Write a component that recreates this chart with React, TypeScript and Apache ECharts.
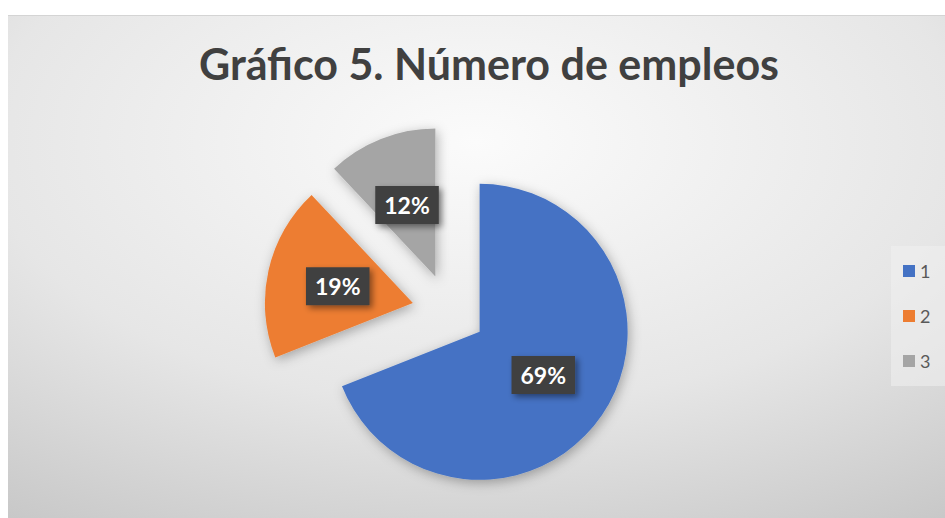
import React, { useEffect, useRef } from "react";
import * as echarts from "echarts";

const categories = ["1", "2", "3"];
const values = [69, 19, 12];
const colors = ["#4472C4", "#ED7D31", "#A5A5A5"];
const titleText = "Gráfico 5. Número de empleos";

export default function App() {
  const ref = useRef<HTMLDivElement>(null);
  useEffect(() => {
    if (!ref.current) return;
    const chart = echarts.init(ref.current, undefined, { renderer: "svg" });
    const labelOffsets: number[][] = [[-29, 2], [0, 0], [0, 0]];
    chart.setOption({
      animation: false,
      backgroundColor: new echarts.graphic.RadialGradient(0.5, 0.25, 0.95, [
        { offset: 0, color: "#fbfbfb" },
        { offset: 0.55, color: "#e6e6e6" },
        { offset: 1, color: "#c4c4c4" },
      ]),
      title: {
        text: titleText,
        left: 476,
        top: 21,
        textAlign: "center",
        textStyle: {
          fontFamily: "Lato",
          fontWeight: "bold",
          fontSize: 43,
          color: "#404040",
        },
      },
      legend: {
        orient: "vertical",
        left: 883,
        top: 230,
        padding: [16, 20, 16, 12],
        itemGap: 27,
        itemWidth: 12,
        itemHeight: 12,
        icon: "rect",
        backgroundColor: "rgba(240,240,240,0.55)",
        textStyle: { color: "#595959", fontSize: 18, fontFamily: "Lato" },
        data: categories,
        selectedMode: false,
      },
      series: [
        {
          type: "pie",
          center: [441, 295],
          radius: 148,
          startAngle: 90,
          clockwise: true,
          selectedMode: "multiple",
          selectedOffset: 37,
          percentPrecision: 0,
          emphasis: { disabled: true },
          itemStyle: {
            shadowBlur: 12,
            shadowColor: "rgba(0,0,0,0.3)",
            shadowOffsetX: 2,
            shadowOffsetY: 3,
          },
          label: {
            show: true,
            position: "inside",
            formatter: "{d}%",
            color: "#ffffff",
            fontFamily: "Lato",
            fontWeight: "bold",
            fontSize: 23,
            backgroundColor: "#404040",
            padding: [8, 9, 7, 9],
            shadowBlur: 6,
            shadowColor: "rgba(0,0,0,0.45)",
            shadowOffsetX: 3,
            shadowOffsetY: 3,
          },
          labelLine: { show: false },
          data: categories.map((c, i) => ({
            name: c,
            value: values[i],
            selected: true,
            itemStyle: { color: colors[i] },
            label: { offset: labelOffsets[i] },
          })),
        },
      ],
    });
    return () => chart.dispose();
  }, []);
  return (
    <div
      ref={ref}
      style={{
        position: "absolute",
        left: 8,
        top: 15,
        width: 937,
        height: 503,
        borderTop: "1px solid #d4d4d4",
        boxSizing: "border-box",
      }}
    />
  );
}
